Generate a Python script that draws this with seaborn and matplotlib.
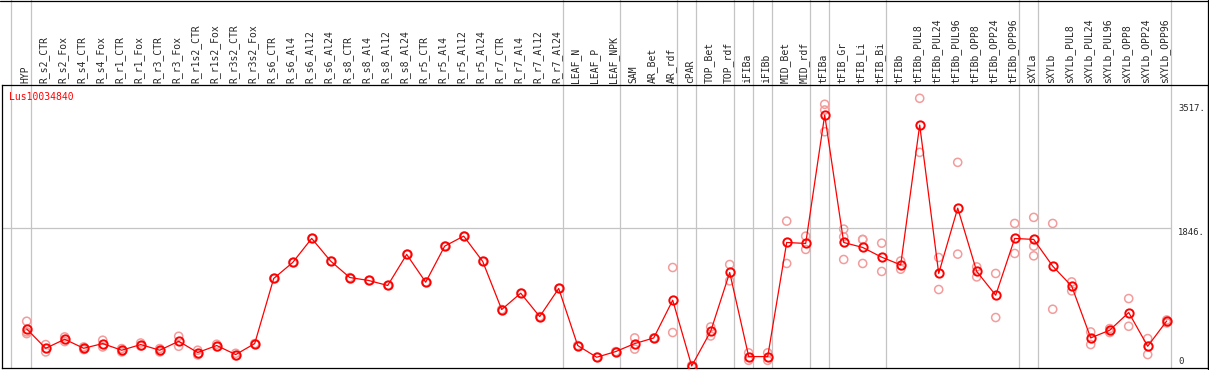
import matplotlib
matplotlib.use("Agg")
import matplotlib.pyplot as plt
from matplotlib.lines import Line2D
import pandas as pd
import seaborn as sns

gene = "Lus10034840"

categories = [
    "HYP", "R_s2_CTR", "R_s2_Fox", "R_s4_CTR", "R_s4_Fox", "R_r1_CTR", "R_r1_Fox",
    "R_r3_CTR", "R_r3_Fox", "R_r1s2_CTR", "R_r1s2_Fox", "R_r3s2_CTR", "R_r3s2_Fox",
    "R_s6_CTR", "R_s6_Al4", "R_s6_Al12", "R_s6_Al24", "R_s8_CTR", "R_s8_Al4",
    "R_s8_Al12", "R_s8_Al24", "R_r5_CTR", "R_r5_Al4", "R_r5_Al12", "R_r5_Al24",
    "R_r7_CTR", "R_r7_Al4", "R_r7_Al12", "R_r7_Al24", "LEAF_N", "LEAF_P", "LEAF_NPK",
    "SAM", "AR_Bet", "AR_rdf", "cPAR", "TOP_Bet", "TOP_rdf", "iFIBa", "iFIBb",
    "MID_Bet", "MID_rdf", "tFIBa", "tFIB_Gr", "tFIB_Li", "tFIB_Bi", "tFIBb",
    "tFIBb_PUL8", "tFIBb_PUL24", "tFIBb_PUL96", "tFIBb_OPP8", "tFIBb_OPP24", "tFIBb_OPP96",
    "sXYLa", "sXYLb", "sXYLb_PUL8", "sXYLb_PUL24", "sXYLb_PUL96", "sXYLb_OPP8",
    "sXYLb_OPP24", "sXYLb_OPP96",
]

# mean expression (red line)
means = [
    500, 241, 362, 241, 304, 215, 291, 215, 335, 184, 278, 157, 304,
    1176, 1390, 1712, 1408, 1189, 1149, 1082, 1498, 1126, 1609, 1743, 1404,
    760, 979, 666, 1042, 278, 121, 197,
    304, 379, 885, 4, 469, 1256, 130, 130,
    1658, 1645, 3365, 1658, 1591, 1461, 1358,
    3231, 1243, 2118, 1270, 952, 1712,
    1699, 1341, 1073, 380, 483, 720, 268, 607,
]

# individual replicates (light red circles)
replicates = [
    [603, 460, 437], [291, 192], [393, 331], [259, 224], [349, 259], [237, 192],
    [312, 270], [237, 192], [402, 268], [215, 152], [295, 261], [174, 140], [304],
    [1176], [1390], [1712], [1408], [1189], [1149], [1082], [1498], [1126], [1609],
    [1743], [1404], [760], [979], [666], [1042], [278], [121], [197],
    [380, 230], [379], [1323, 452], [10, 0], [527, 406], [1363, 1144], [180, 80], [180, 80],
    [1944, 1377], [1743, 1565], [3509, 3432, 3141], [1837, 1734, 1430], [1699, 1377, 1697],
    [1649, 1270], [1410, 1300],
    [3589, 2865], [1457, 1028], [2731, 1502], [1331, 1197], [1243, 653], [1913, 1511],
    [1994, 1609, 1479], [1913, 764], [1130, 1010], [460, 291], [505, 452], [907, 536],
    [371, 157], [620, 581],
]

# grey separator lines are drawn after these samples
separators_after = [
    "HYP", "R_r7_Al24", "LEAF_NPK", "AR_rdf", "cPAR", "TOP_rdf", "iFIBa", "iFIBb",
    "MID_rdf", "tFIBa", "tFIB_Bi", "tFIBb_OPP96", "sXYLa", "sXYLb_OPP96",
]

ytick_values = [0, 1846, 3517]
ytick_labels = ["0", "1846.", "3517."]

sns.set_style("white")
plt.rcParams["font.family"] = ["DejaVu Sans Mono"]

W, H = 1209, 370
fig = plt.figure(figsize=(W / 100, H / 100), dpi=100)
ax = fig.add_axes([1.5 / W, 1.7 / H, 1206 / W, (368.3 - 85) / H])

xpos = list(range(len(categories)))
df_mean = pd.DataFrame({"x": xpos, "value": means})
rows = []
for i, reps in enumerate(replicates):
    for r in reps:
        rows.append({"x": i, "value": r})
df_rep = pd.DataFrame(rows)

grey = "#c4c4c4"
xmin, xmax = -1.326, 62.147
ax.set_xlim(xmin, xmax)
ax.set_ylim(-27, 3767)

# separators (also run through the header above the axes)
sep_x = [-1 + 0.16] + [categories.index(c) + 0.21 for c in separators_after]
for sx in sep_x:
    ax.axvline(sx, ymin=0, ymax=1.31, color=grey, lw=0.9, clip_on=False, zorder=1)
ax.hlines(1846, xmin, sep_x[-1], color=grey, lw=0.9, zorder=1)

sns.scatterplot(data=df_rep, x="x", y="value", ax=ax, marker="o", s=34,
                facecolors="none", edgecolor="#f29c9c", linewidth=1.1, zorder=2,
                legend=False)
sns.lineplot(data=df_mean, x="x", y="value", ax=ax, color="red", lw=0.9,
             marker="o", markersize=6.0, markerfacecolor="none",
             markeredgecolor="red", markeredgewidth=1.4, zorder=3)

ax.set_xlabel("")
ax.set_ylabel("")
ax.xaxis.tick_top()
ax.set_xticks([p - 0.09 for p in xpos])
ax.set_xticklabels(categories, rotation=90, fontsize=7)
ax.tick_params(axis="x", length=0, pad=1.5, top=True, bottom=False,
               labeltop=True, labelbottom=False)

ax.yaxis.tick_right()
ax.set_yticks(ytick_values)
ax.set_yticklabels(ytick_labels)
ax.tick_params(axis="y", length=0, pad=-21, labelsize=6.4,
               right=True, left=False, labelright=True, labelleft=False)
for v, lab in zip(ytick_values, ax.get_yticklabels()):
    lab.set_va("bottom" if v == 0 else "top")

for s in ax.spines.values():
    s.set_color("black")
    s.set_linewidth(0.9)

fig.text(9.3 / W, 1 - 97.3 / H, gene, color="red", fontsize=7, va="center", ha="left")

# outer frame of the header
fig.add_artist(Line2D([0, 1], [1 - 0.5 / H] * 2, transform=fig.transFigure,
                      color="black", lw=0.9))
fig.add_artist(Line2D([1207.5 / W] * 2, [0, 1], transform=fig.transFigure,
                      color="black", lw=0.9))

fig.savefig("out.png", dpi=100)
